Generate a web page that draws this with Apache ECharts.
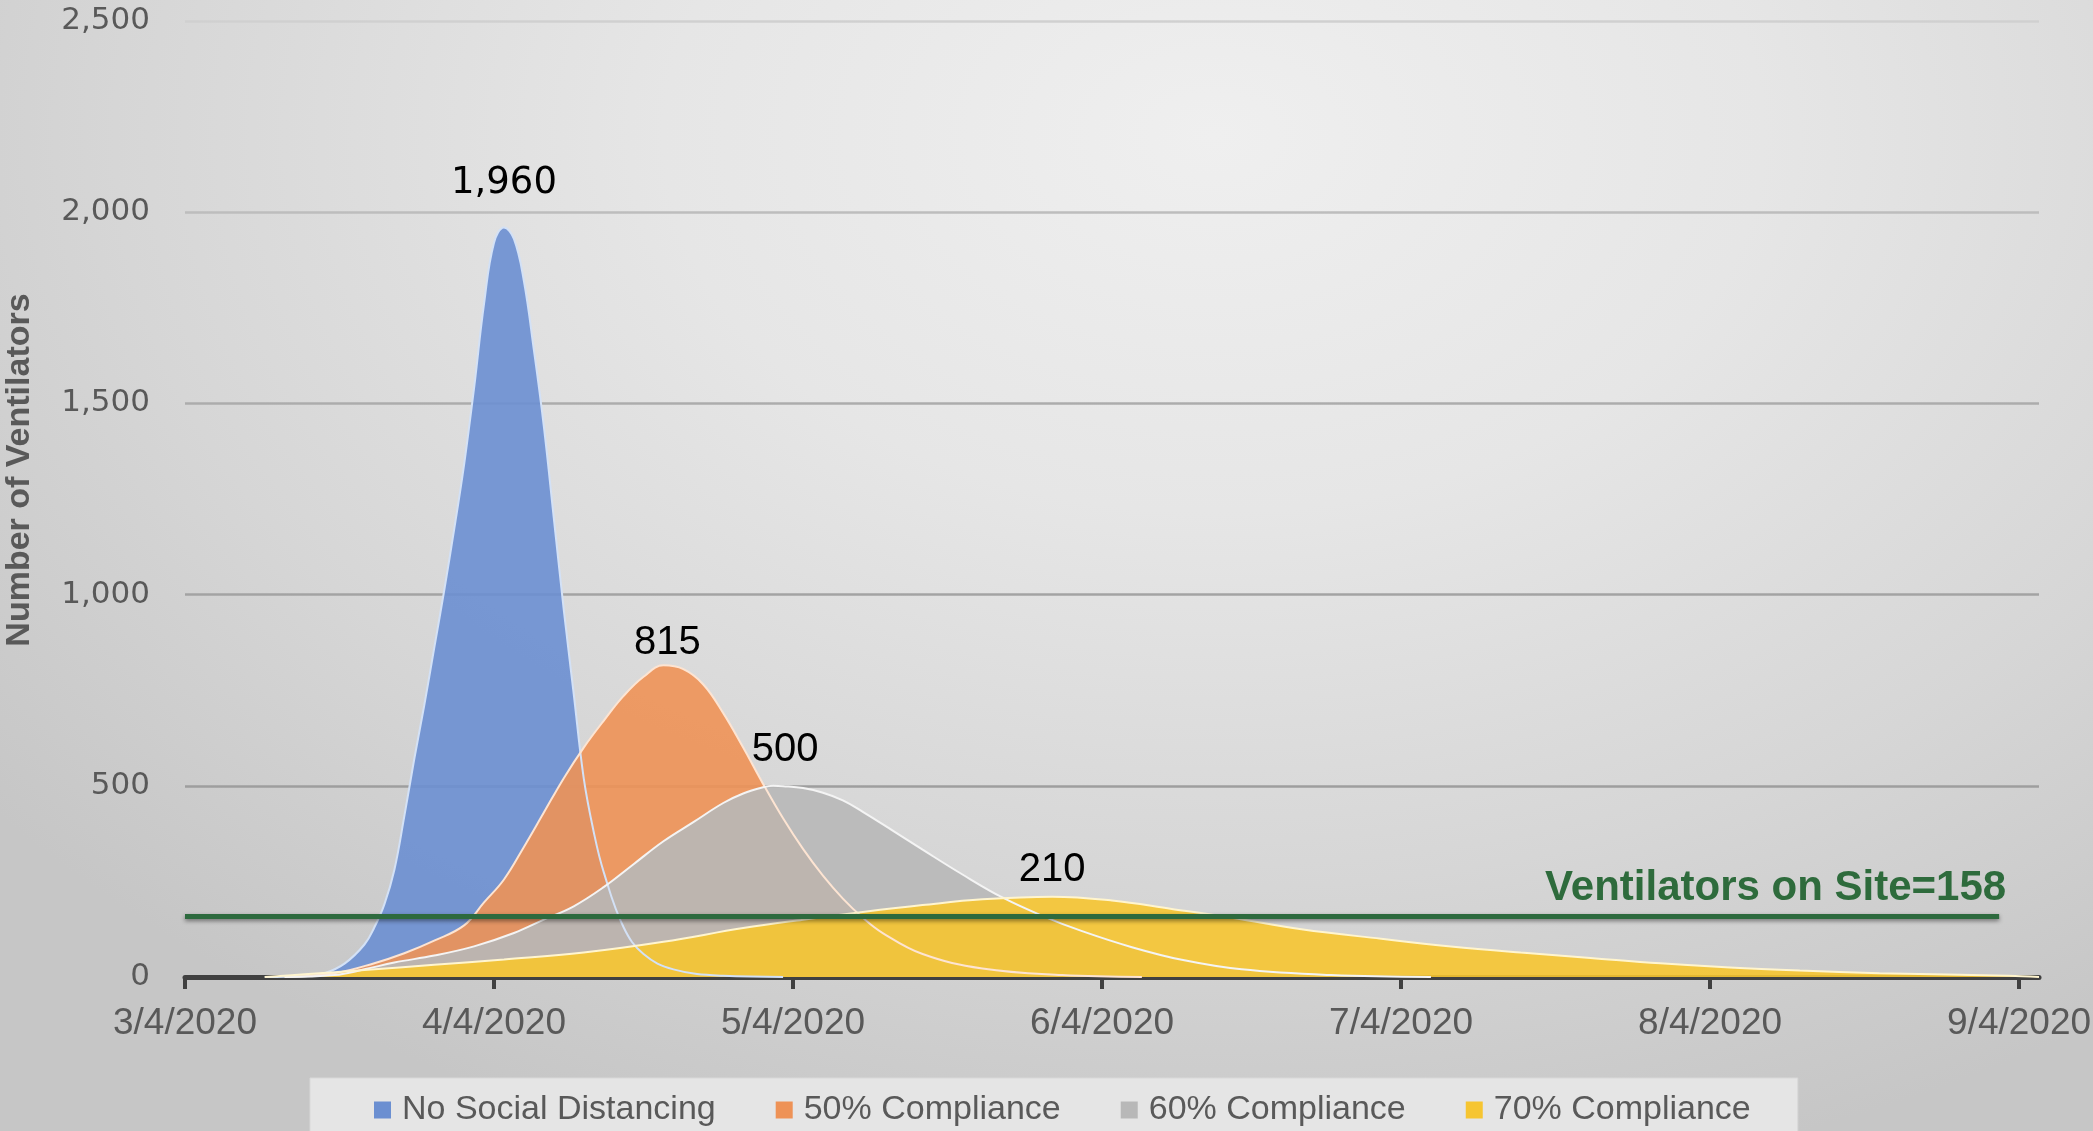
<!DOCTYPE html>
<html>
<head>
<meta charset="utf-8">
<script src="https://cdn.jsdelivr.net/npm/echarts@6/dist/echarts.min.js"></script>
<style>
html, body { margin: 0; padding: 0; }
#chart {
    width: 2093px;
    height: 1131px;
    background: radial-gradient(ellipse 75% 95% at 58% 12%, #efefef 0%, #e6e6e6 35%, #d6d6d6 70%, #c6c6c6 100%);
}
</style>
</head>
<body>
<div id="chart"></div>
<script>
// x values are days counted from 3/4/2020
var tickDays = [0, 31, 61, 92, 122, 153, 184];

var noDistDays = [8, 12, 14, 16, 18, 19, 20, 21, 22, 23, 24, 25, 26, 27, 28, 29, 30, 31, 32, 33, 34, 35, 36, 37, 38, 39, 40, 41, 42, 44, 46, 49, 54, 60];
var noDistValues = [0, 2, 10, 35, 85, 130, 190, 280, 420, 570, 710, 860, 1010, 1170, 1340, 1540, 1760, 1920, 1960, 1930, 1820, 1640, 1440, 1200, 960, 740, 520, 380, 275, 130, 60, 20, 3, 0];

var c50Days = [10, 15, 19, 22, 25, 28, 30, 32, 34, 36, 38, 40, 42, 44, 46, 48, 50, 52, 54, 56, 58, 60, 62, 64, 66, 68, 70, 74, 80, 88, 96];
var c50Values = [0, 10, 36, 62, 95, 135, 195, 255, 340, 430, 520, 600, 670, 735, 785, 815, 805, 765, 690, 600, 505, 415, 335, 265, 205, 155, 115, 60, 22, 5, 0];

var c60Days = [10, 15, 18, 21, 25, 29, 33, 36, 39, 42, 45, 48, 51, 54, 56, 58, 59, 60, 62, 64, 66, 68, 71, 74, 78, 82, 86, 90, 95, 100, 106, 115, 125];
var c60Values = [0, 5, 20, 38, 56, 80, 115, 150, 185, 235, 295, 355, 405, 455, 480, 496, 500, 499, 494, 482, 462, 432, 383, 333, 268, 208, 160, 120, 78, 45, 20, 5, 0];

var c70Days = [8, 12, 18, 25, 32, 40, 48, 56, 62, 68, 74, 80, 87, 93, 99, 105, 112, 120, 127, 134, 141, 148, 155, 162, 170, 178, 183, 186];
var c70Values = [0, 7, 18, 32, 46, 64, 92, 128, 150, 170, 188, 203, 210, 200, 178, 155, 125, 100, 80, 64, 50, 36, 25, 17, 10, 6, 3, 0];

var seriesNames = ['No Social Distancing', '50% Compliance', '60% Compliance', '70% Compliance'];
var ventilatorsOnSite = 158;
var siteLineEndDay = 182;
var axisEndDay = 186;

var sans = "'Liberation Sans', Arial, sans-serif";

function pairs(days, values) {
    return days.map((d, i) => [d, values[i]]);
}
function fmtDate(v) {
    var d = new Date(2020, 2, 4 + v);
    return (d.getMonth() + 1) + '/' + d.getDate() + '/' + d.getFullYear();
}

function areaSeries(name, days, values, fill, edge, peakLabel) {
    return {
        name: name,
        type: 'line',
        data: pairs(days, values),
        smooth: 0.4,
        showSymbol: false,
        animation: false,
        itemStyle: { color: fill },
        lineStyle: { color: edge, width: 2 },
        areaStyle: { color: fill, opacity: 0.9 },
        markPoint: {
            silent: true,
            symbol: 'circle',
            symbolSize: 1,
            itemStyle: { color: 'rgba(0,0,0,0)' },
            label: Object.assign({
                show: true,
                position: 'top',
                color: '#000',
                formatter: p => p.value.toLocaleString('en-US')
            }, peakLabel),
            data: [{ type: 'max' }]
        }
    };
}

var chart = echarts.init(document.getElementById('chart'));

var option = {
    backgroundColor: 'transparent',
    animation: false,
    grid: { left: 185, right: 54, top: 21, bottom: 154, outerBoundsMode: 'none' },
    legend: {
        data: seriesNames,
        left: 310,
        top: 1078,
        padding: [12, 47, 30, 64],
        itemGap: 60,
        itemWidth: 17,
        itemHeight: 17,
        icon: 'rect',
        backgroundColor: '#e5e5e5',
        borderColor: '#d9d9d9',
        borderWidth: 1,
        itemStyle: { borderWidth: 0 },
        textStyle: { fontFamily: sans, fontSize: 34, lineHeight: 40, color: '#595959', padding: [0, 0, 0, 6] }
    },
    xAxis: {
        type: 'value',
        min: 0,
        max: axisEndDay,
        axisLine: { lineStyle: { color: '#404040', width: 5 } },
        axisTick: {
            customValues: tickDays,
            length: 12,
            lineStyle: { color: '#404040', width: 4 }
        },
        axisLabel: {
            customValues: tickDays,
            formatter: fmtDate,
            fontFamily: sans,
            fontSize: 37,
            color: '#595959',
            margin: 28
        },
        splitLine: { show: false }
    },
    yAxis: {
        type: 'value',
        min: 0,
        max: 2500,
        interval: 500,
        name: 'Number of Ventilators',
        nameLocation: 'middle',
        nameGap: 148,
        nameTextStyle: {
            fontFamily: sans,
            fontWeight: 'bold',
            fontSize: 34,
            color: '#595959',
            padding: [0, 0, 0, 58]
        },
        axisLine: { show: false },
        axisTick: { show: false },
        axisLabel: {
            formatter: v => v.toLocaleString('en-US'),
            fontFamily: 'DejaVu Sans',
            fontSize: 31,
            color: '#595959',
            margin: 35
        },
        splitLine: {
            lineStyle: {
                color: ['#999999', '#9e9e9e', '#a3a3a3', '#acacac', '#bdbdbd', '#d0d0d0'],
                width: 2.5
            }
        }
    },
    series: [
        areaSeries(seriesNames[0], noDistDays, noDistValues, '#6b8fd1', '#d3e1f6',
            { fontFamily: 'DejaVu Sans', fontSize: 37, lineHeight: 37, distance: 25 }),
        areaSeries(seriesNames[1], c50Days, c50Values, '#ee9256', '#fde4d2',
            { fontFamily: sans, fontSize: 40, lineHeight: 40, distance: 2, offset: [4, 0] }),
        areaSeries(seriesNames[2], c60Days, c60Values, '#b8b8b8', '#f4f4f4',
            { fontFamily: sans, fontSize: 40, lineHeight: 40, distance: 15, offset: [12, 0] }),
        Object.assign(areaSeries(seriesNames[3], c70Days, c70Values, '#f6c531', '#fff5cf',
            { fontFamily: sans, fontSize: 40, lineHeight: 40, distance: 6 }), {
            markLine: {
                silent: true,
                symbol: 'none',
                lineStyle: {
                    color: '#2d6a3e',
                    width: 5,
                    type: 'solid',
                    shadowColor: 'rgba(0,0,0,0.45)',
                    shadowBlur: 4,
                    shadowOffsetY: 2
                },
                label: {
                    show: true,
                    position: 'insideEndTop',
                    formatter: 'Ventilators on Site=' + ventilatorsOnSite,
                    fontFamily: sans,
                    fontWeight: 'bold',
                    fontSize: 42,
                    color: '#2e6b3c',
                    distance: [-7, 7]
                },
                data: [[
                    { coord: [0, ventilatorsOnSite] },
                    { coord: [siteLineEndDay, ventilatorsOnSite] }
                ]]
            }
        })
    ]
};

chart.setOption(option);
</script>
</body>
</html>
